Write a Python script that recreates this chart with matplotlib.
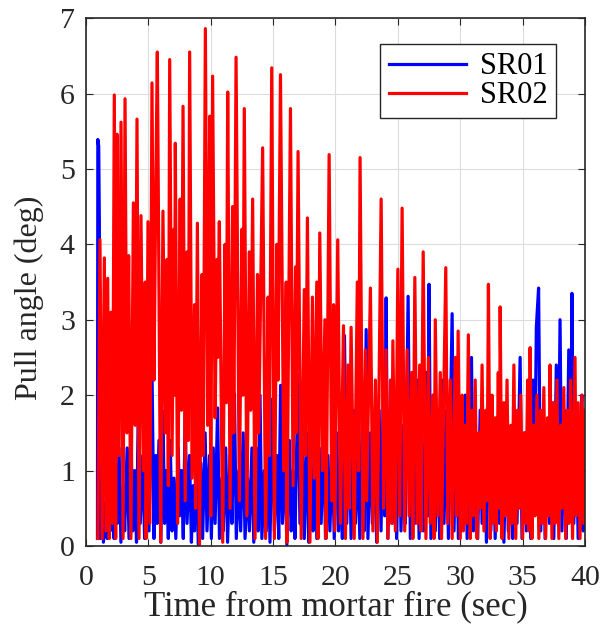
import matplotlib
matplotlib.use("Agg")
import matplotlib.pyplot as plt

# SR02 (red) extremes: time (s), angle (deg)
red_time = [0.95, 1.12, 1.3, 1.47, 1.6, 1.74, 1.87, 2.0, 2.12, 2.27, 2.38, 2.49, 2.65, 2.81, 2.97, 3.13,
            3.28, 3.42, 3.6, 3.8, 3.95, 4.09, 4.25, 4.41, 4.6, 4.75, 4.82, 4.97, 5.12, 5.29, 5.45, 5.6,
            5.72, 5.99, 6.17, 6.35, 6.5, 6.6, 6.71, 6.9, 7.05, 7.1, 7.16, 7.35, 7.55, 7.65, 7.78, 7.95,
            8.1, 8.2, 8.31, 8.5, 8.7, 8.78, 8.93, 9.1, 9.3, 9.4, 9.57, 9.75, 9.92, 10.0, 10.15, 10.35,
            10.5, 10.55, 10.69, 10.96, 11.15, 11.25, 11.36, 11.55, 11.75, 11.85, 12.03, 12.29, 12.5, 12.58,
            12.69, 12.9, 13.1, 13.2, 13.36, 13.55, 13.75, 13.85, 14.16, 14.4, 14.6, 14.7, 14.89, 15.1,
            15.3, 15.4, 15.59, 15.85, 16.05, 16.1, 16.39, 16.6, 16.8, 16.85, 17.0, 17.25, 17.5, 17.6,
            17.75, 17.95, 18.15, 18.3, 18.5, 18.6, 18.74, 18.95, 19.15, 19.25, 19.49, 19.7, 19.85, 19.95,
            20.18, 20.4, 20.64, 20.8, 21.0, 21.1, 21.25, 21.5, 21.75, 21.85, 21.97, 22.2, 22.4, 22.5,
            22.8, 23.0, 23.2, 23.35, 23.66, 23.85, 24.05, 24.2, 24.4, 24.5, 24.6, 24.8, 25.0, 25.15,
            25.34, 25.55, 25.75, 25.9, 26.1, 26.2, 26.36, 26.55, 26.75, 26.85, 27.03, 27.25, 27.45, 27.6,
            27.8, 27.9, 28.0, 28.2, 28.4, 28.5, 28.84, 29.0, 29.2, 29.35, 29.6, 29.7, 29.83, 30.0,
            30.15, 30.25, 30.4, 30.5, 30.65, 30.8, 30.95, 31.05, 31.2, 31.35, 31.5, 31.6, 31.75, 31.9,
            32.05, 32.15, 32.26, 32.4, 32.55, 32.65, 32.8, 32.9, 33.05, 33.15, 33.2, 33.35, 33.5, 33.6,
            33.75, 33.9, 34.05, 34.15, 34.3, 34.45, 34.6, 34.7, 34.85, 35.0, 35.15, 35.25, 35.4, 35.5,
            35.6, 35.75, 35.9, 36.0, 36.15, 36.3, 36.45, 36.55, 36.7, 36.85, 37.0, 37.1, 37.2, 37.35,
            37.5, 37.6, 37.75, 37.9, 38.05, 38.15, 38.3, 38.45, 38.6, 38.7, 38.85, 39.0, 39.2, 39.3,
            39.45, 39.6, 39.75, 39.9, 40.0]
red_angle = [0.1, 4.06, 0.1, 3.82, 0.2, 3.55, 0.1, 3.1, 0.3, 5.98, 0.1, 5.46, 1.2, 5.62, 0.1, 5.93,
             1.5, 3.85, 0.1, 4.55, 1.6, 5.66, 0.1, 4.38, 1.0, 3.5, 0.1, 4.3, 0.3, 6.14, 2.2, 4.8,
             6.55, 0.05, 4.44, 1.5, 3.8, 0.8, 6.45, 1.2, 4.2, 2.0, 5.34, 0.3, 4.6, 1.8, 5.83, 0.6,
             3.9, 1.4, 6.55, 0.9, 3.2, 0.5, 4.28, 0.02, 3.6, 1.2, 6.86, 1.6, 5.7, 0.4, 6.23, 1.7,
             3.8, 2.5, 4.3, 0.05, 4.0, 1.9, 6.02, 0.5, 4.5, 1.5, 6.48, 0.6, 4.2, 2.0,
             5.8, 0.4, 3.9, 1.8, 4.6, 0.1, 3.6, 1.5, 5.28, 0.1, 3.3, 1.2, 6.34, 0.1,
             4.0, 2.2, 6.25, 1.0, 3.5, 0.05, 5.8, 0.8, 3.7, 1.5, 5.23, 0.1, 3.4, 1.2,
             4.35, 0.05, 3.3, 0.9, 3.5, 0.1, 4.15, 1.0, 3.0, 0.1, 5.19, 0.6, 3.2, 0.2,
             4.06, 0.3, 2.92, 0.1, 2.4, 0.5, 2.9, 0.1, 3.5, 1.0, 5.15, 0.1, 2.6, 0.6,
             3.42, 0.2, 2.2, 0.05, 4.6, 0.5, 2.6, 0.1, 2.2, 0.3, 2.72, 0.2, 3.67, 0.4,
             4.48, 0.2, 2.6, 0.4, 2.3, 0.1, 3.56, 0.3, 2.4, 0.2, 3.9, 0.1, 2.5, 0.3,
             2.0, 0.1, 3.0, 0.4, 2.3, 0.1, 3.69, 0.3, 2.2, 0.1, 2.5, 0.4, 2.85, 0.1,
             2.0, 0.2, 1.6, 0.3, 2.8, 0.1, 1.8, 0.4, 2.2, 0.1, 1.5, 0.5, 2.4, 0.2,
             1.8, 0.6, 3.47, 0.1, 2.0, 0.3, 1.7, 0.2, 2.3, 0.5, 3.17, 0.1, 1.9, 0.4,
             2.2, 0.1, 1.6, 0.3, 2.4, 0.1, 1.8, 0.5, 2.0, 0.1, 1.5, 0.3, 2.2, 0.2,
             2.63, 0.1, 1.6, 0.4, 2.0, 0.1, 1.8, 0.3, 2.1, 0.1, 1.7, 0.4, 2.4, 0.1,
             1.9, 0.3, 2.2, 0.1, 1.6, 0.5, 2.1, 0.1, 1.8, 0.3, 2.2, 0.1, 2.5, 0.4,
             1.9, 0.1, 2.0, 0.3, 1.8]

# SR01 (blue) extremes
blue_time = [0.92, 0.95, 1.02, 1.07, 1.15, 1.3, 1.4, 1.6, 1.7, 1.85, 1.95, 2.1, 2.25, 2.4, 2.5, 2.65,
             2.8, 3.0, 3.1, 3.3, 3.45, 3.6, 3.75, 3.9, 4.05, 4.2, 4.35, 4.55, 4.7, 4.9, 5.05, 5.29,
             5.45, 5.6, 5.7, 5.85, 6.0, 6.17, 6.3, 6.45, 6.6, 6.75, 6.9, 7.05, 7.2, 7.4, 7.5, 7.65,
             7.8, 7.95, 8.1, 8.3, 8.45, 8.6, 8.7, 8.85, 9.0, 9.2, 9.35, 9.55, 9.7, 9.9, 10.05, 10.2,
             10.35, 10.55, 10.7, 10.9, 11.0, 11.2, 11.35, 11.55, 11.7, 11.9, 12.05, 12.25, 12.4, 12.6,
             12.75, 12.95, 13.1, 13.3, 13.45, 13.65, 13.8, 13.95, 14.1, 14.3, 14.45, 14.6, 14.75, 14.95,
             15.1, 15.3, 15.45, 15.6, 15.75, 15.95, 16.1, 16.3, 16.45, 16.6, 16.75, 17.0, 17.15, 17.35,
             17.5, 17.7, 17.85, 18.05, 18.2, 18.35, 18.5, 18.7, 18.85, 19.05, 19.2, 19.4, 19.55, 19.75,
             19.9, 20.1, 20.25, 20.45, 20.55, 20.72, 20.9, 21.1, 21.25, 21.45, 21.6, 21.8, 21.95, 22.15,
             22.3, 22.46, 22.6, 22.8, 22.95, 23.15, 23.3, 23.5, 23.65, 23.85, 23.95, 24.06, 24.2, 24.4,
             24.55, 24.75, 24.9, 25.1, 25.25, 25.45, 25.6, 25.82, 26.0, 26.2, 26.35, 26.55, 26.7, 26.9,
             27.05, 27.3, 27.4, 27.5, 27.65, 27.85, 28.0, 28.2, 28.35, 28.55, 28.7, 28.9, 29.05, 29.35,
             29.5, 29.7, 29.85, 30.05, 30.2, 30.4, 30.55, 30.75, 30.9, 31.05, 31.25, 31.4, 31.6, 31.75,
             31.95, 32.1, 32.3, 32.45, 32.65, 32.8, 33.0, 33.15, 33.35, 33.5, 33.7, 33.85, 34.05, 34.2,
             34.4, 34.55, 34.8, 34.95, 35.15, 35.3, 35.5, 35.65, 35.85, 35.95, 36.1, 36.28, 36.45, 36.65,
             36.8, 37.0, 37.15, 37.35, 37.5, 37.7, 37.85, 38.0, 38.15, 38.35, 38.5, 38.7, 38.85, 38.95,
             39.1, 39.3, 39.45, 39.6, 39.75, 39.85, 40.0]
blue_angle = [0.1, 5.39, 5.3, 4.3, 0.1, 0.8, 0.05, 0.6, 0.1, 1.1, 0.2, 1.4, 0.1, 0.9, 0.3, 1.3,
              0.05, 0.8, 0.2, 1.3, 0.1, 1.6, 0.2, 1.0, 0.05, 1.9, 0.3, 1.2, 0.1, 1.5, 0.2, 2.36,
              0.1, 1.2, 0.3, 1.4, 0.05, 1.79, 0.3, 1.0, 0.1, 1.4, 0.2, 0.9, 0.1, 1.3, 0.4, 1.0,
              0.1, 1.73, 0.3, 1.2, 0.05, 0.8, 0.2, 1.4, 0.02, 1.1, 0.1, 1.5, 0.2, 1.2, 0.1, 1.3,
              0.3, 1.83, 0.1, 0.9, 0.2, 1.3, 0.05, 1.2, 0.3, 2.02, 0.1, 1.0, 0.2, 1.5,
              0.1, 0.9, 0.2, 1.3, 0.05, 1.3, 0.2, 2.0, 0.1, 1.0, 0.2, 1.3, 0.05, 1.95,
              0.2, 1.2, 0.1, 2.13, 0.3, 1.2, 0.02, 1.4, 0.2, 1.0, 0.1, 2.27, 0.3, 1.4,
              0.1, 1.5, 0.05, 1.0, 0.2, 2.3, 0.1, 1.3, 0.3, 1.5, 0.1, 1.2, 0.2, 1.3,
              0.1, 1.5, 0.2, 1.2, 0.1, 2.79, 0.3, 1.5, 0.1, 1.8, 0.3, 1.2, 0.1, 1.7,
              0.2, 2.87, 0.1, 1.5, 0.3, 1.2, 0.05, 1.8, 0.2, 2.2, 0.4, 3.29, 0.1, 1.8,
              0.3, 1.4, 0.1, 2.0, 0.2, 1.6, 0.3, 3.31, 0.1, 1.7, 0.3, 2.2, 0.1, 1.5,
              0.2, 2.3, 0.4, 3.47, 0.1, 2.0, 0.2, 1.6, 0.1, 2.2, 0.3, 1.8, 0.1, 3.08,
              0.2, 1.9, 0.1, 1.5, 0.3, 2.0, 0.1, 1.6, 2.5, 0.2, 1.5, 0.1, 1.8, 0.3,
              1.3, 0.05, 1.9, 0.2, 1.4, 0.1, 1.7, 0.3, 1.2, 0.05, 1.6, 0.2, 1.3, 0.1,
              1.8, 0.3, 2.5, 0.1, 1.5, 0.2, 1.9, 0.1, 2.2, 0.5, 2.9, 3.42, 0.2, 1.8,
              0.1, 1.5, 0.3, 1.9, 0.1, 2.4, 0.5, 3.0, 0.2, 1.8, 0.1, 2.6, 0.6, 3.35,
              0.3, 1.6, 0.1, 1.5, 2.0, 0.2, 1.5]

x_ticks = [0, 5, 10, 15, 20, 25, 30, 35, 40]
y_ticks = [0, 1, 2, 3, 4, 5, 6, 7]
series_labels = ["SR01", "SR02"]

plt.rcParams['font.family'] = ['Liberation Serif', 'DejaVu Serif']

fig = plt.figure(figsize=(6.0, 6.24), dpi=100)
ax = fig.add_axes([0.1433, 0.125, 0.8317, 0.846])

ax.plot(blue_time, blue_angle, color='#0000ff', lw=2.3, label=series_labels[0])
ax.plot(red_time, red_angle, color='#ff0000', lw=2.3, label=series_labels[1])

ax.set_xlim(0, 40)
ax.set_ylim(0, 7)
ax.set_xticks(x_ticks)
ax.set_yticks(y_ticks)
ax.grid(True, color='#dcdcdc', lw=0.8)
ax.set_axisbelow(True)
ax.tick_params(direction='in', top=True, right=True, labelsize=21.5, length=5,
               color='#262626', labelcolor='#262626')
ax.tick_params(axis='x', pad=14)
ax.tick_params(axis='y', pad=8)
for s in ax.spines.values():
    s.set_color('#262626')
    s.set_linewidth(1.2)

ax.set_xlabel('Time from mortar fire (sec)', fontsize=25, color='#262626', labelpad=-1)
ax.set_ylabel('Pull angle (deg)', fontsize=23, color='#262626')
ax.yaxis.set_label_coords(-0.085, 0.47)

leg = ax.legend(loc='upper right', bbox_to_anchor=(0.942, 0.951), fontsize=22,
                handlelength=2.55, fancybox=False, framealpha=1, edgecolor='#262626',
                borderpad=0.27, labelspacing=0.0, handletextpad=0.45, borderaxespad=0)
leg.get_frame().set_linewidth(1.0)

fig.savefig('out.png', dpi=100)
